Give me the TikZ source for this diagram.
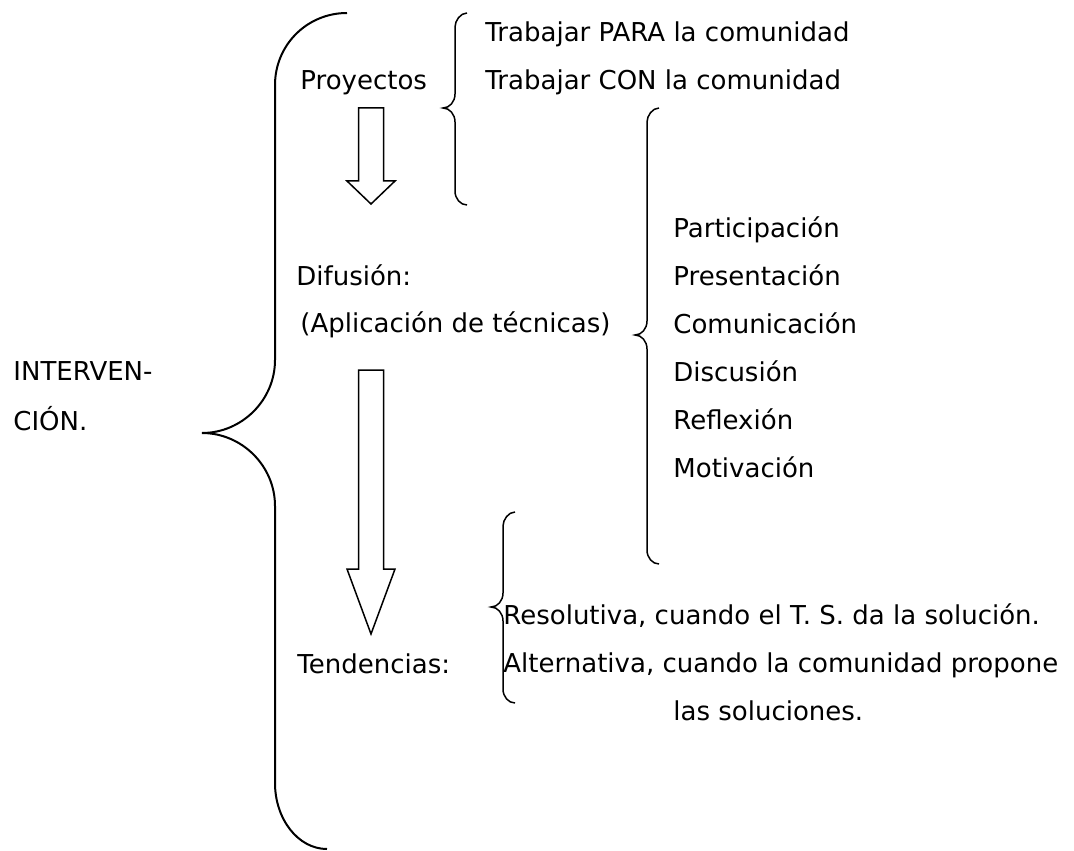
\documentclass[tikz,border=0pt]{standalone}
\usepackage{fontspec}
\setmainfont{DejaVu Sans}
\usepackage{tikz}
\usetikzlibrary{calc}
% left curly brace: [style]{tip x}{top y}{cusp y}{bottom y}{half width}{curl height}
\newcommand{\curlybrace}[7][]{%
  \draw[bracepath,#1] ({#2+2*#6},{#3})
    .. controls ({#2+2*#6-0.552*#6},{#3}) and ({#2+#6},{#3+0.552*#7}) .. ({#2+#6},{#3+#7})
    -- ({#2+#6},{#4-#7})
    .. controls ({#2+#6},{#4-0.448*#7}) and ({#2+0.552*#6},{#4}) .. ({#2},{#4})
    .. controls ({#2+0.552*#6},{#4}) and ({#2+#6},{#4+0.448*#7}) .. ({#2+#6},{#4+#7})
    -- ({#2+#6},{#5-#7})
    .. controls ({#2+#6},{#5-0.448*#7}) and ({#2+2*#6-0.552*#6},{#5}) .. ({#2+2*#6},{#5});}
% hollow block arrow: {centre x}{top y}{head y}{tip y}
\newcommand{\hollowarrow}[4]{%
  \draw[blockarrow] ({#1-12.5},{#2}) -- ({#1+12.5},{#2}) -- ({#1+12.5},{#3})
    -- ({#1+24},{#3}) -- ({#1},{#4}) -- ({#1-24},{#3}) -- ({#1-12.5},{#3}) -- cycle;}

\begin{document}
\begin{tikzpicture}[
    x=0.5pt, y=-0.5pt,
    every node/.style={font=\fontsize{13pt}{15pt}\selectfont},
    label/.style={anchor=base west, inner sep=0pt, text=black},
    bracepath/.style={draw=black, line width=0.75pt},
    blockarrow/.style={draw=black, line width=0.75pt, fill=white}
  ]
    \useasboundingbox (0,0) rectangle (1074,850);

    % Main heading
    \node[label] (interven) at (13, 380) {INTERVEN-};
    \node[label] (cion)     at (13, 430) {CIÓN.};

    % Big brace, uneven curls
    \draw[bracepath, line width=1pt] (347,13)
      .. controls (307,13) and (275,45) .. (275,85)
      -- (275,360)
      .. controls (275,400) and (242,433) .. (202,433)
      .. controls (242,433) and (275,466) .. (275,506)
      -- (275,783)
      .. controls (275,819) and (298,849) .. (327,849);

    % Proyectos
    \node[label] (proyectos) at (300, 90) {Proyectos};
    \curlybrace{443}{13}{108}{205}{12}{14}
    \node[label] (para) at (485, 42) {Trabajar PARA la comunidad};
    \node[label] (con)  at (485, 90) {Trabajar CON la comunidad};

    \hollowarrow{371}{108}{181}{204}

    % Difusion
    \node[label] (difusion)   at (296, 285) {Difusión:};
    \node[label] (aplicacion) at (300, 332) {(Aplicación de técnicas)};
    \curlybrace{635}{108}{335}{564}{12}{14}
    \node[label] (participacion) at (673, 237) {Participación};
    \node[label] (presentacion)  at (673, 285) {Presentación};
    \node[label] (comunicacion)  at (673, 333) {Comunicación};
    \node[label] (discusion)     at (673, 381) {Discusión};
    \node[label] (reflexion)     at (673, 429) {Reflexión};
    \node[label] (motivacion)    at (673, 477) {Motivación};

    \hollowarrow{371}{370}{569}{634}

    % Tendencias
    \node[label] (tendencias) at (297, 673) {Tendencias:};
    \curlybrace{491}{512}{607}{703}{12}{14}
    \node[label] (resolutiva)  at (503, 624) {Resolutiva, cuando el T. S. da la solución.};
    \node[label] (alternativa) at (503, 672) {Alternativa, cuando la comunidad propone};
    \node[label] (soluciones)  at (673, 720) {las soluciones.};
\end{tikzpicture}
\end{document}
